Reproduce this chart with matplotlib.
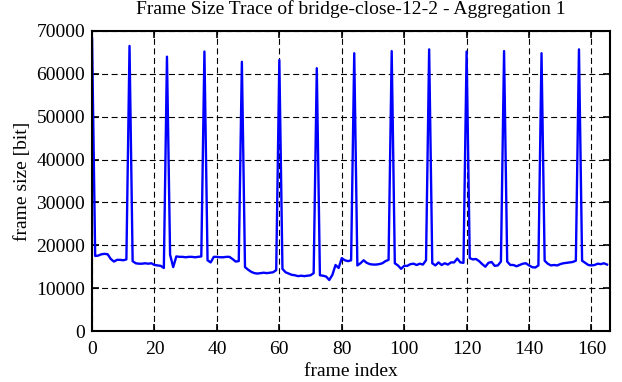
"""Frame size trace of bridge-close-12-2 (aggregation 1)"""

import numpy as np
import matplotlib
matplotlib.use("Agg")
import matplotlib.pyplot as plt

# frame sizes in bit, one value per frame (0..165)
frame_size = [
    68300, 17500, 17600, 17900, 18000, 17900, 16800, 16200, 16600, 16600,
    16500, 16700, 66500, 16300, 15800, 15700, 15700, 15800, 15700, 15800,
    15400, 15300, 15200, 14700, 64000, 17800, 14900, 17400, 17300, 17300,
    17200, 17300, 17300, 17200, 17300, 17400, 65200, 16500, 16000, 17300,
    17300, 17200, 17200, 17300, 17300, 16800, 16200, 16300, 62800, 14900,
    14300, 13800, 13500, 13400, 13500, 13600, 13500, 13600, 13700, 14200,
    63200, 14500, 13700, 13400, 13100, 13000, 12800, 12900, 12800, 12900,
    13000, 13500, 61300, 13000, 12900, 12700, 11900, 13100, 15400, 14700,
    17000, 16500, 16300, 16500, 64800, 15300, 15800, 16500, 15900, 15600,
    15500, 15500, 15600, 15800, 16300, 16600, 65300, 15800, 15300, 14500,
    15200, 15200, 15600, 15700, 15400, 15700, 15500, 16500, 65700, 15800,
    15300, 16000, 15400, 15800, 15500, 16000, 16000, 16900, 16000, 15900,
    65200, 17000, 16700, 16800, 16300, 15600, 15000, 15900, 16100, 15200,
    15300, 16200, 65300, 16200, 15400, 15400, 15100, 15400, 15700, 15800,
    15300, 14900, 14800, 15300, 64800, 16400, 15700, 15300, 15400, 15300,
    15600, 15800, 15900, 16000, 16100, 16400, 65700, 16400, 15900, 15400,
    15300, 15400, 15700, 15600, 15800, 15500,
]
frame_index = np.arange(len(frame_size))

x_ticks = [0, 20, 40, 60, 80, 100, 120, 140, 160]
y_ticks = [0, 10000, 20000, 30000, 40000, 50000, 60000, 70000]

plt.rcParams["font.family"] = ["Liberation Serif", "DejaVu Serif"]
plt.rcParams["font.size"] = 14

fig = plt.figure(figsize=(6.22, 3.82), dpi=100)
ax = fig.add_axes([0.148, 0.1335, 0.833, 0.7855])

ax.plot(frame_index, frame_size, color="#0000ff", linewidth=1.7)

ax.set_xlim(0, 166)
ax.set_ylim(0, 70000)
ax.set_xticks(x_ticks)
ax.set_yticks(y_ticks)
ax.tick_params(direction="in", length=5, width=1.2, top=True, right=True)
ax.tick_params(axis="x", pad=7)
ax.tick_params(axis="y", pad=5)
ax.grid(True, color="black", linestyle=(0, (5.4, 3.2)), linewidth=0.8)
for s in ax.spines.values():
    s.set_linewidth(1.5)

ax.set_xlabel("frame index", labelpad=4)
ax.set_ylabel("frame size [bit]", labelpad=4)
ax.set_title("Frame Size Trace of bridge-close-12-2 - Aggregation 1", fontsize=14, pad=12)

plt.savefig("out.png", dpi=100)
